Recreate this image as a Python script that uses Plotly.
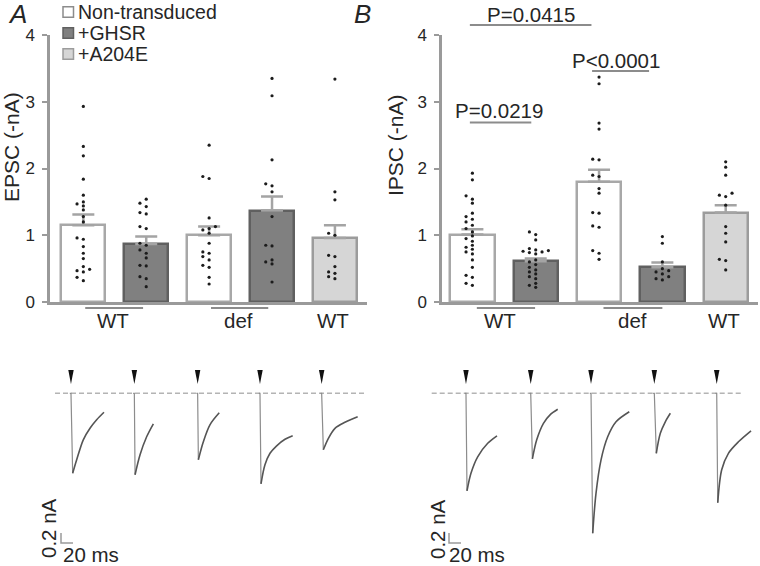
import plotly.graph_objects as go

# ---------------- data ----------------
GROUPS = ["WT", "def", "WT"]
LEGEND_LABELS = ["Non-transduced", "+GHSR", "+A204E"]
Y_TICKS = [0, 1, 2, 3, 4]

# Panel A: EPSC (-nA), bars: WT non-trans, WT +GHSR, def non-trans, def +GHSR, WT +A204E
EPSC_MEAN = [1.15, 0.87, 1.00, 1.37, 0.96]
EPSC_SEM = [0.16, 0.11, 0.13, 0.21, 0.19]
EPSC_WT_NT = [2.93, 2.33, 2.19, 1.84, 1.60, 1.50, 1.47, 1.44, 1.38, 1.28, 1.20, 0.96, 0.94,
              0.83, 0.73, 0.65, 0.53, 0.49, 0.47, 0.45, 0.37, 0.32]
EPSC_WT_GHSR = [1.54, 1.48, 1.43, 1.34, 1.32, 1.13, 1.10, 0.88, 0.85, 0.78, 0.73, 0.66, 0.55,
                0.54, 0.38, 0.35, 0.23]
EPSC_DEF_NT = [2.35, 1.88, 1.85, 1.26, 1.13, 1.10, 1.08, 1.03, 0.88, 0.75, 0.73, 0.68, 0.63,
               0.55, 0.52, 0.37, 0.27]
EPSC_DEF_GHSR = [3.35, 3.09, 2.13, 1.77, 1.74, 1.65, 1.28, 0.85, 0.84, 0.63, 0.60, 0.57, 0.30]
EPSC_WT_A204E = [3.34, 1.65, 1.53, 1.03, 1.00, 0.70, 0.68, 0.53, 0.45, 0.43, 0.38, 0.35]

# Panel B: IPSC (-nA)
IPSC_MEAN = [1.01, 0.61, 1.80, 0.52, 1.34]
IPSC_SEM = [0.08, 0.04, 0.18, 0.07, 0.11]
IPSC_WT_NT = [1.93, 1.83, 1.59, 1.54, 1.48, 1.33, 1.28, 1.24, 1.20, 1.15, 1.10, 1.05, 0.99,
              0.95, 0.91, 0.85, 0.82, 0.79, 0.75, 0.72, 0.63, 0.52, 0.40, 0.37, 0.28, 0.25]
IPSC_WT_GHSR = [1.05, 1.01, 0.93, 0.80, 0.78, 0.77, 0.76, 0.75, 0.74, 0.72, 0.63, 0.60, 0.56,
                0.52, 0.48, 0.45, 0.42, 0.38, 0.35, 0.28, 0.25, 0.22]
IPSC_DEF_NT = [3.37, 3.27, 2.68, 2.59, 2.14, 2.13, 1.90, 1.88, 1.70, 1.63, 1.34, 1.33, 1.14,
               1.12, 0.77, 0.73, 0.64]
IPSC_DEF_GHSR = [0.98, 0.88, 0.60, 0.50, 0.47, 0.45, 0.42, 0.38, 0.35, 0.33]
IPSC_WT_A204E = [2.10, 2.02, 1.90, 1.63, 1.60, 1.58, 1.45, 1.13, 1.03, 0.90, 0.64, 0.62, 0.48]

P_LABELS = ["P=0.0415", "P=0.0219", "P<0.0001"]

# Example traces (time in ms from stimulus, current in nA)
EPSC_TRACE_T = [[0, 2.8, 9.5, 20.5, 31.7, 42.8, 55.0],
                [0, 1.2, 9.5, 20.5, 31.7],
                [0, 1.2, 9.5, 20.5, 36.0],
                [0, 1.7, 8.3, 16.7, 27.8, 41.7, 54.5],
                [0, 2.8, 11.2, 22.2, 38.8, 60.0]]
EPSC_TRACE_I = [[0, -1.60, -1.33, -0.93, -0.70, -0.53, -0.38],
                [0, -1.63, -1.23, -0.87, -0.61],
                [0, -1.33, -0.97, -0.63, -0.39],
                [0, -1.81, -1.43, -1.20, -1.05, -0.92, -0.85],
                [0, -1.13, -0.90, -0.70, -0.58, -0.47]]
IPSC_TRACE_T = [[0, 1.7, 8.3, 19.5, 36.2, 51.7],
                [0, 2.8, 10.0, 21.2, 32.2, 45.0],
                [0, 2.8, 8.3, 16.7, 27.8, 41.7, 63.8],
                [0, 3.3, 10.0, 18.3, 26.7],
                [0, 1.7, 8.3, 19.5, 36.2, 57.2]]
IPSC_TRACE_I = [[0, -1.95, -1.60, -1.27, -1.00, -0.85],
                [0, -1.31, -0.93, -0.60, -0.43, -0.32],
                [0, -2.80, -2.00, -1.33, -0.87, -0.57, -0.37],
                [0, -1.20, -0.80, -0.57, -0.40],
                [0, -2.19, -1.53, -1.20, -0.97, -0.75]]
SCALE_NA = 0.2
SCALE_MS = 20

# ---------------- layout constants ----------------
W, H = 760, 566
FONT = "Liberation Sans, Arial, sans-serif"
TXT = "#262626"
AXC = "#9a9a9a"
FS = 20.5

def px(x):
    return x / W

def py(y):
    return 1 - y / H

A_XPX = (50, 367); A_XR = (-0.53, 4.51)
B_XPX = (442, 758); B_XR = (-0.48, 4.51)
Y_PX = (302, 35); Y_R = (0, 4)

def xdata_px(v, dom, rng):
    return dom[0] + (v - rng[0]) / (rng[1] - rng[0]) * (dom[1] - dom[0])

def ydata_px(v):
    return Y_PX[0] + (v - Y_R[0]) / (Y_R[1] - Y_R[0]) * (Y_PX[1] - Y_PX[0])

FILLS = ["white", "#808080", "white", "#808080", "#d6d6d6"]
EDGES = ["#a8a8a8", "#606060", "#a8a8a8", "#606060", "#9c9c9c"]
BAR_W = 0.7

PX_PER_MS = 0.6
PX_PER_NA = 50.0
BASE_Y = 393.3
TR_TOP, TR_BOT = 365, 566
TR_XR = (0, 380 / PX_PER_MS)
TR_YR = (-(TR_BOT - BASE_Y) / PX_PER_NA, (BASE_Y - TR_TOP) / PX_PER_NA)
STIM_A = [118.3, 223.9, 329.4, 433.3, 536.1]
STIM_B = [143.3, 251.2, 351.7, 457.2, 561.2]

fig = go.Figure()
ann = []
shapes = []


def swarm(values, step=0.05, dist_px=3.4):
    placed = []
    xs = [0.0] * len(values)
    order = sorted(range(len(values)), key=lambda i: values[i])
    for i in order:
        v = values[i]
        for k in [0, -1, 1, -2, 2, -3, 3, -4, 4]:
            x = k * step
            ok = True
            for (xx, vv) in placed:
                if abs((vv - v) * 66.75) < dist_px and abs((xx - x) * 63) < dist_px:
                    ok = False
                    break
            if ok:
                xs[i] = x
                placed.append((x, v))
                break
    return xs


def add_bar_panel(means, sems, dots, xa, ya):
    xs = list(range(len(means)))
    fig.add_trace(go.Bar(
        x=xs, y=means, width=BAR_W,
        marker=dict(color=FILLS, line=dict(color=EDGES, width=2.5)),
        error_y=dict(type="data", symmetric=False, array=sems, arrayminus=[0] * len(sems),
                     color="#a4a4a4", thickness=2.5, width=11),
        xaxis=xa, yaxis=ya, showlegend=False, hoverinfo="skip"))
    for i, vals in enumerate(dots):
        jit = swarm(vals)
        fig.add_trace(go.Scatter(
            x=[i + j for j in jit], y=vals, mode="markers",
            marker=dict(size=3.2, color="#1c1c1c"), cliponaxis=False,
            xaxis=xa, yaxis=ya, showlegend=False, hoverinfo="skip"))


add_bar_panel(EPSC_MEAN, EPSC_SEM,
              [EPSC_WT_NT, EPSC_WT_GHSR, EPSC_DEF_NT, EPSC_DEF_GHSR, EPSC_WT_A204E], "x", "y")
add_bar_panel(IPSC_MEAN, IPSC_SEM,
              [IPSC_WT_NT, IPSC_WT_GHSR, IPSC_DEF_NT, IPSC_DEF_GHSR, IPSC_WT_A204E], "x2", "y2")


def add_traces(T, I, stims, xa, ya, dash_ms, sb_ms):
    fig.add_trace(go.Scatter(x=list(dash_ms), y=[0, 0], mode="lines",
                             line=dict(color="#b4b4b4", width=1.5, dash="5px,3px"),
                             xaxis=xa, yaxis=ya, showlegend=False, hoverinfo="skip"))
    hw = 2.7 / PX_PER_MS
    top = (BASE_Y - 370) / PX_PER_NA
    bot = (BASE_Y - 384) / PX_PER_NA
    for t, cur, s in zip(T, I, stims):
        fig.add_trace(go.Scatter(x=[s - 2, s + t[0], s + t[1]], y=[0, cur[0], cur[1]], mode="lines",
                                 line=dict(color="#8c8c8c", width=1.2),
                                 xaxis=xa, yaxis=ya, showlegend=False, hoverinfo="skip"))
        fig.add_trace(go.Scatter(x=[s + tt for tt in t[1:]], y=cur[1:], mode="lines",
                                 line=dict(color="#555555", width=1.6, shape="spline", smoothing=0.9),
                                 xaxis=xa, yaxis=ya, showlegend=False, hoverinfo="skip"))
        shapes.append(dict(type="path", xref=xa, yref=ya,
                           path=f"M {s - hw},{top} L {s + hw},{top} L {s},{bot} Z",
                           fillcolor="#111111", line=dict(width=0)))
    y0 = -(543 - BASE_Y) / PX_PER_NA
    fig.add_trace(go.Scatter(x=[sb_ms, sb_ms, sb_ms + SCALE_MS], y=[y0 + SCALE_NA, y0, y0],
                             mode="lines", line=dict(color="#9a9a9a", width=1.5),
                             xaxis=xa, yaxis=ya, showlegend=False, hoverinfo="skip"))


add_traces(EPSC_TRACE_T, EPSC_TRACE_I, STIM_A, "x3", "y3",
           (55 / PX_PER_MS, 367 / PX_PER_MS), 61 / PX_PER_MS)
add_traces(IPSC_TRACE_T, IPSC_TRACE_I, STIM_B, "x4", "y4",
           ((431.7 - 380) / PX_PER_MS, (743.3 - 380) / PX_PER_MS), (449 - 380) / PX_PER_MS)

ydom = [py(Y_PX[0]), py(Y_PX[1])]
yax = dict(domain=ydom, range=list(Y_R), tickvals=Y_TICKS, ticks="outside", ticklen=5,
           tickwidth=2, tickcolor=AXC, showline=True, linecolor=AXC, linewidth=2.5,
           showgrid=False, zeroline=False, tickfont=dict(size=17, color=TXT, family=FONT),
           ticklabelstandoff=4, automargin=False)
xax = dict(showline=True, linecolor=AXC, linewidth=2.5, showticklabels=False, ticks="",
           showgrid=False, zeroline=False, automargin=False)
hid = dict(visible=False, showgrid=False, zeroline=False, automargin=False)

fig.update_layout(
    template="none",
    width=W, height=H, autosize=False,
    margin=dict(l=0, r=0, t=0, b=0, pad=0, autoexpand=False),
    paper_bgcolor="white", plot_bgcolor="white",
    font=dict(family=FONT, color=TXT, size=FS),
    showlegend=False,
    bargap=0,
    xaxis=dict(domain=[px(A_XPX[0]), px(A_XPX[1])], range=list(A_XR), anchor="y", **xax),
    yaxis=dict(anchor="x", **yax),
    xaxis2=dict(domain=[px(B_XPX[0]), px(B_XPX[1])], range=list(B_XR), anchor="y2", **xax),
    yaxis2=dict(anchor="x2", **yax),
    xaxis3=dict(domain=[0, 0.5], range=list(TR_XR), anchor="y3", **hid),
    yaxis3=dict(domain=[0, py(TR_TOP)], range=list(TR_YR), anchor="x3", **hid),
    xaxis4=dict(domain=[0.5, 1], range=list(TR_XR), anchor="y4", **hid),
    yaxis4=dict(domain=[0, py(TR_TOP)], range=list(TR_YR), anchor="x4", **hid),
)


def text(x, y, s, size=FS, xanchor="center", angle=0, italic=False):
    ann.append(dict(x=px(x), y=py(y), xref="paper", yref="paper", text=s, showarrow=False,
                    xanchor=xanchor, yanchor="middle", textangle=angle, borderpad=0,
                    font=dict(size=size, color=TXT, family=FONT,
                              style="italic" if italic else "normal")))


def hline(x0, x1, y, color="#8c8c8c", width=2):
    shapes.append(dict(type="line", xref="paper", yref="paper", x0=px(x0), x1=px(x1),
                       y0=py(y), y1=py(y), line=dict(color=color, width=width)))


text(17, 14, "A", size=26, italic=True)
text(362, 14, "B", size=26, italic=True)

text(11, 147, "EPSC (-nA)", size=21, angle=-90)
text(395, 145, "IPSC (-nA)", size=21, angle=-90)

LEG_Y = [12, 33, 54]
for lab, yc, fc, ec in zip(LEGEND_LABELS, LEG_Y, ["white", "#808080", "#d6d6d6"],
                           ["#8c8c8c", "#606060", "#9c9c9c"]):
    shapes.append(dict(type="rect", xref="paper", yref="paper", x0=px(63), x1=px(73.5),
                       y0=py(yc + 5.2), y1=py(yc - 5.2), fillcolor=fc, line=dict(color=ec, width=1.5)))
    text(77, yc, lab, size=19.5, xanchor="left")

for dom, rng, lab_x, line_spans in [
    (A_XPX, A_XR, [0.47, 2.47, 3.97], [(0.03, 0.95), (2.03, 2.94)]),
    (B_XPX, B_XR, [0.43, 2.53, 3.97], [(0.07, 0.99), (2.07, 3.0)]),
]:
    for g, lx in zip(GROUPS, lab_x):
        text(xdata_px(lx, dom, rng), 320, g)
    for a, b in line_spans:
        hline(xdata_px(a, dom, rng), xdata_px(b, dom, rng), 308)

SIG = [(-0.04, 1.88, 4.15, 0.93, 4.31), (-0.04, 0.93, 2.69, 0.42, 2.87), (1.89, 2.79, 3.46, 2.27, 3.62)]
for (a, b, yl, tx, ty), lab in zip(SIG, P_LABELS):
    hline(xdata_px(a, B_XPX, B_XR), xdata_px(b, B_XPX, B_XR), ydata_px(yl))
    text(xdata_px(tx, B_XPX, B_XR), ydata_px(ty), lab)

text(62, 554, f"{SCALE_MS} ms", xanchor="left")
text(48, 528, f"{SCALE_NA} nA", angle=-90)
text(448, 554, f"{SCALE_MS} ms", xanchor="left")
text(437, 529, f"{SCALE_NA} nA", angle=-90)

fig.update_layout(annotations=ann, shapes=shapes)
fig.write_html("out.html", config={"displayModeBar": False},
               post_script="document.body.style.margin='0';")
